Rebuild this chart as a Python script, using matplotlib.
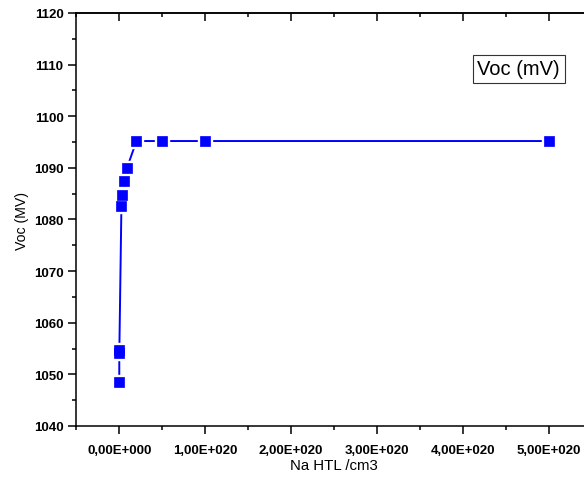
import os
import matplotlib.pyplot as plt
from matplotlib import font_manager
from matplotlib.font_manager import FontProperties
from matplotlib.ticker import MultipleLocator, FuncFormatter

plt.rcParams['font.family'] = ['Liberation Sans', 'DejaVu Sans']

# doping density of the HTL (cm^-3) and open-circuit voltage (mV)
na_htl = [1e15, 1e16, 1e17, 2.5e18, 3.5e18, 5.5e18, 9e18, 2e19, 5e19, 1e20, 5e20]
voc = [1048.5, 1054.1, 1054.8, 1082.7, 1084.7, 1087.4, 1090.0, 1095.2, 1095.2, 1095.2, 1095.2]

x_ticks = [0, 1e20, 2e20, 3e20, 4e20, 5e20]


def sci_comma(v, pos):
    if v == 0:
        return "0,00E+000"
    s = f"{v:.2E}"
    mant, exp = s.split("E")
    return f"{mant.replace('.', ',')}E{exp[0]}{int(exp[1:]):03d}"


# pick the plain (not narrow) Liberation Sans files directly
def lib_font(name, size):
    for f in font_manager.findSystemFonts():
        if os.path.basename(f) == name:
            return FontProperties(fname=f, size=size)
    return FontProperties(family='Liberation Sans', size=size,
                          weight='bold' if 'Bold' in name else 'normal')


bold = lib_font('LiberationSans-Bold.ttf', 9.5)
xlab_font = lib_font('LiberationSans-Regular.ttf', 10.8)
ylab_font = lib_font('LiberationSans-Regular.ttf', 10.2)
box_font = lib_font('LiberationSans-Regular.ttf', 14.5)

fig = plt.figure(figsize=(5.84, 4.85), dpi=100)
# axes run a little past the right edge, as in the cropped original
ax = fig.add_axes([76.3 / 584, 58 / 485, (592 - 76.3) / 584, (427 - 14) / 485])

ax.plot(na_htl, voc, color='#0000ff', lw=1.4, zorder=1)
ax.plot(na_htl, voc, ls='none', marker='s', ms=9.5, mfc='white', mec='white', zorder=2)
ax.plot(na_htl, voc, ls='none', marker='s', ms=6.5, mfc='#0000ff', mec='#0000ff', mew=0.5, zorder=3)

ax.set_xlim(-0.5e20, 5.5e20)
ax.set_ylim(1040, 1120)
ax.set_xticks(x_ticks)
ax.xaxis.set_minor_locator(MultipleLocator(0.5e20))
ax.yaxis.set_major_locator(MultipleLocator(10))
ax.yaxis.set_minor_locator(MultipleLocator(5))
ax.xaxis.set_major_formatter(FuncFormatter(sci_comma))

for sp in ax.spines.values():
    sp.set_linewidth(1.1)

ax.tick_params(axis='both', which='major', direction='out', length=5.8, width=1.1)
ax.tick_params(axis='both', which='minor', direction='out', length=3.2, width=1.1)
ax.tick_params(axis='x', which='major', pad=7)
ax.tick_params(axis='y', which='major', pad=3.5)
for t in ax.get_xticklabels() + ax.get_yticklabels():
    t.set_fontproperties(bold)

# top axis: inward ticks, no labels
top = ax.secondary_xaxis('top')
top.set_xticks(x_ticks)
top.xaxis.set_minor_locator(MultipleLocator(0.5e20))
top.tick_params(which='major', direction='in', length=5.8, width=1.1, labeltop=False)
top.tick_params(which='minor', direction='in', length=3.2, width=1.1)
top.spines['top'].set_linewidth(1.1)

ax.set_xlabel('Na HTL /cm3', fontproperties=xlab_font, labelpad=1.5)
ax.set_ylabel('Voc (MV)', fontproperties=ylab_font, labelpad=3.5)

ax.text(0.858, 0.865, 'Voc (mV)', transform=ax.transAxes, fontproperties=box_font,
        ha='center', va='center',
        bbox=dict(boxstyle='square,pad=0.22', fc='white', ec='#333333', lw=0.8))

fig.savefig('out.png', dpi=100)
